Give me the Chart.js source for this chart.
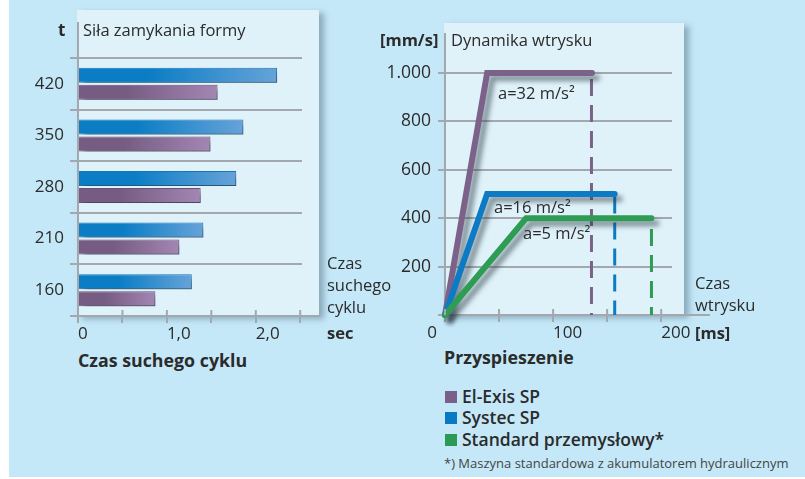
<!DOCTYPE html>
<html>
<head>
<meta charset="utf-8">
<script src="https://cdn.jsdelivr.net/npm/chart.js@4.4.0/dist/chart.umd.min.js"></script>
<style>
    body { margin: 0; width: 805px; height: 479px; background: #fff; position: relative; overflow: hidden; }
    .bg { position: absolute; left: 9px; top: 0; width: 796px; height: 477px; background: #c5e8f8; }
    .panel { position: absolute; background: #dff2fa; box-shadow: 5px 3px 6px rgba(80, 110, 130, 0.5); }
    canvas { position: absolute; top: 0; }
    .lbl { position: absolute; font-family: 'Open Sans', sans-serif; color: #2b2b2b; font-size: 16.5px; line-height: 20px; white-space: nowrap; }
    .b { font-weight: 700; }
    .big { font-size: 17.8px; }
    .leg { font-weight: 600; font-size: 17.5px; }
    .sq { position: absolute; width: 12px; height: 12px; }
</style>
</head>
<body>
<div class="bg"></div>
<div class="panel" style="left:77px; top:10px; width:242px; height:306px;"></div>
<div class="panel" style="left:444px; top:23px; width:240px; height:292px;"></div>

<canvas id="cycleChart" width="345" height="345" style="left:0"></canvas>
<canvas id="injectChart" width="330" height="345" style="left:380px"></canvas>

<!-- left chart texts -->
<div class="lbl b" style="left:58px; top:20px; font-size:17px;">t</div>
<div class="lbl" style="left:83px; top:20px;">Siła zamykania formy</div>
<div class="lbl" style="left:327px; top:253px;">Czas</div>
<div class="lbl" style="left:327px; top:275px;">suchego</div>
<div class="lbl" style="left:327px; top:297px;">cyklu</div>
<div class="lbl b" style="left:327px; top:323px;">sec</div>
<div class="lbl b big" style="left:78px; top:350px;">Czas suchego cyklu</div>

<!-- right chart texts -->
<div class="lbl b" style="left:380px; top:30px;">[mm/s]</div>
<div class="lbl" style="left:451px; top:30px;">Dynamika wtrysku</div>
<div class="lbl" style="left:498px; top:83px;">a=32 m/s²</div>
<div class="lbl" style="left:494px; top:197px;">a=16 m/s²</div>
<div class="lbl" style="left:523px; top:223px;">a=5 m/s²</div>
<div class="lbl" style="left:695px; top:273px;">Czas</div>
<div class="lbl" style="left:695px; top:295px;">wtrysku</div>
<div class="lbl b" style="left:695px; top:323px;">[ms]</div>
<div class="lbl b big" style="left:444px; top:347px;">Przyspieszenie</div>

<!-- legend -->
<div class="sq" style="left:445px; top:391px; background:#7a6088;"></div>
<div class="lbl leg" style="left:462px; top:386px;">El-Exis SP</div>
<div class="sq" style="left:445px; top:412px; background:#0a79c4;"></div>
<div class="lbl leg" style="left:462px; top:407px;">Systec SP</div>
<div class="sq" style="left:445px; top:434px; background:#2a9a55;"></div>
<div class="lbl leg" style="left:462px; top:429px;">Standard przemysłowy*</div>
<div class="lbl" style="left:444px; top:453px; font-size:13px; color:#444;">*) Maszyna standardowa z akumulatorem hydraulicznym</div>

<script>
// --- Data: clamping force vs dry cycle time ---
const clampForces = ['420', '350', '280', '210', '160'];
const systecCycle = [2.24, 1.86, 1.78, 1.41, 1.28];
const elexisCycle = [1.57, 1.49, 1.38, 1.14, 0.87];
const cycleTicks = [0, 0.5, 1.0, 1.5, 2.0, 2.5];

// --- Data: injection speed profiles (time in ms, speed in mm/s) ---
const elexisTimes = [0, 39, 136];
const elexisSpeeds = [0, 1000, 1000];
const systecTimes = [0, 39, 157];
const systecSpeeds = [0, 500, 500];
const standardTimes = [0, 75, 191];
const standardSpeeds = [0, 400, 400];
const injectEndTimes = [135.5, 157, 191];
const injectEndTops = [975, 490, 355];
const speedTicks = [0, 200, 400, 600, 800, 1000];
const timeTicks = [0, 50, 100, 150, 200];

const GRID = '#a2a8ad';
const TEXT = '#2b2b2b';
const PURPLE = '#7c6289';
const BLUE = '#0d7bc3';
const GREEN = '#2e9c52';

Chart.defaults.font.family = 'Open Sans';
Chart.defaults.color = TEXT;

const toPoints = (xs, ys) => xs.map((x, i) => ({ x: x, y: ys[i] }));

// shadows under bars / thick lines
const shadowPlugin = {
    id: 'shadow',
    beforeDatasetDraw(chart, args) {
        if (chart.data.datasets[args.index].noShadow) return;
        const ctx = chart.ctx;
        ctx.save();
        ctx.shadowColor = 'rgba(45, 60, 70, 0.55)';
        ctx.shadowBlur = 5;
        ctx.shadowOffsetX = 5;
        ctx.shadowOffsetY = 5;
    },
    afterDatasetDraw(chart, args) {
        if (chart.data.datasets[args.index].noShadow) return;
        chart.ctx.restore();
    }
};

// axis lines that run past the plot area, inner tick marks, lone "0"
const axisExtendPlugin = {
    id: 'axisExtend',
    afterDraw(chart, args, opts) {
        const { ctx, chartArea } = chart;
        ctx.save();
        ctx.strokeStyle = GRID;
        ctx.lineWidth = 2;
        ctx.beginPath();
        ctx.moveTo(chartArea.left, chartArea.top);
        ctx.lineTo(chartArea.left, opts.top);
        ctx.moveTo(chartArea.right, chartArea.bottom);
        ctx.lineTo(opts.right, chartArea.bottom);
        chart.scales.x.ticks.forEach(t => {
            const px = chart.scales.x.getPixelForValue(t.value);
            ctx.moveTo(px, chartArea.bottom - 6);
            ctx.lineTo(px, chartArea.bottom);
        });
        ctx.stroke();
        if (opts.zeroLabel) {
            ctx.fillStyle = TEXT;
            ctx.font = '17px "Open Sans"';
            ctx.textAlign = 'right';
            ctx.textBaseline = 'middle';
            ctx.fillText('0', chartArea.left - 8, 333);
        }
        ctx.restore();
    }
};

function barGradient(from, to) {
    return (c) => {
        const chart = c.chart;
        const area = chart.chartArea;
        if (!area || c.raw === undefined) return from;
        const end = chart.scales.x.getPixelForValue(c.raw);
        const g = chart.ctx.createLinearGradient(area.left, 0, end, 0);
        g.addColorStop(0, from);
        g.addColorStop(0.35, from);
        g.addColorStop(1, to);
        return g;
    };
}

function loadCycleChart() {
    const ctx = document.getElementById('cycleChart').getContext('2d');
    new Chart(ctx, {
        type: 'bar',
        data: {
            labels: clampForces,
            datasets: [
                {
                    label: 'Systec SP',
                    data: systecCycle,
                    backgroundColor: barGradient('#0a7dc5', '#66a3d8'),
                    borderColor: '#1a74ba',
                    borderWidth: 1,
                    categoryPercentage: 0.66,
                    barPercentage: 0.88
                },
                {
                    label: 'El-Exis SP',
                    data: elexisCycle,
                    backgroundColor: barGradient('#765c82', '#a486b3'),
                    borderColor: '#6a5278',
                    borderWidth: 1,
                    categoryPercentage: 0.66,
                    barPercentage: 0.88
                }
            ]
        },
        options: {
            indexAxis: 'y',
            responsive: false,
            animation: false,
            layout: { padding: { top: 58, right: 43, left: 0, bottom: 0 } },
            scales: {
                x: {
                    type: 'linear',
                    min: 0,
                    max: 2.52,
                    afterBuildTicks: (s) => { s.ticks = cycleTicks.map(v => ({ value: v })); },
                    afterFit: (s) => { s.height = 29; },
                    ticks: {
                        align: 'start',
                        padding: 1,
                        font: { size: 17 },
                        color: TEXT,
                        callback: (v) => (v === 0 ? '0' : (v % 1 === 0 ? v.toFixed(1).replace('.', ',') : ''))
                    },
                    grid: { drawOnChartArea: false, color: GRID, lineWidth: 2, tickLength: 7 },
                    border: { color: GRID, width: 2 }
                },
                y: {
                    afterFit: (s) => { s.width = 78; },
                    ticks: { font: { size: 17 }, color: TEXT, padding: 6 },
                    grid: { color: GRID, lineWidth: 2, tickLength: 8, offset: true },
                    border: { color: GRID, width: 2 }
                }
            },
            plugins: {
                legend: { display: false },
                tooltip: { enabled: false },
                axisExtend: { top: 22, right: 320 }
            }
        },
        plugins: [shadowPlugin, axisExtendPlugin]
    });
}

function loadInjectChart() {
    const ctx = document.getElementById('injectChart').getContext('2d');
    const lineSet = (label, xs, ys, color) => ({
        label: label,
        data: toPoints(xs, ys),
        borderColor: color,
        borderWidth: 6,
        pointRadius: 0,
        borderJoinStyle: 'miter',
        borderCapStyle: 'round',
        clip: false
    });
    const dashSet = (i, color) => ({
        data: [{ x: injectEndTimes[i], y: injectEndTops[i] }, { x: injectEndTimes[i], y: 0 }],
        borderColor: color,
        borderWidth: 3,
        borderDash: [17, 9],
        pointRadius: 0,
        noShadow: true,
        clip: false
    });
    new Chart(ctx, {
        type: 'line',
        data: {
            datasets: [
                lineSet('Standard przemysłowy*', standardTimes, standardSpeeds, GREEN),
                lineSet('Systec SP', systecTimes, systecSpeeds, BLUE),
                lineSet('El-Exis SP', elexisTimes, elexisSpeeds, PURPLE),
                dashSet(0, PURPLE),
                dashSet(1, BLUE),
                dashSet(2, GREEN)
            ]
        },
        options: {
            responsive: false,
            animation: false,
            layout: { padding: { top: 73, right: 38, left: 0, bottom: 0 } },
            scales: {
                x: {
                    type: 'linear',
                    min: 0,
                    max: 210,
                    afterBuildTicks: (s) => { s.ticks = timeTicks.map(v => ({ value: v })); },
                    afterFit: (s) => { s.height = 30; },
                    ticks: {
                        align: 'start',
                        padding: 1,
                        font: { size: 17 },
                        color: TEXT,
                        callback: (v) => (v > 0 && v % 100 === 0 ? String(v) : '')
                    },
                    grid: { drawOnChartArea: false, color: GRID, lineWidth: 2, tickLength: 7 },
                    border: { color: GRID, width: 2 }
                },
                y: {
                    type: 'linear',
                    min: 0,
                    max: 1000,
                    afterBuildTicks: (s) => { s.ticks = speedTicks.map(v => ({ value: v })); },
                    afterFit: (s) => { s.width = 65; },
                    ticks: {
                        font: { size: 17.5 },
                        color: TEXT,
                        padding: 7,
                        callback: (v) => (v === 0 ? '' : String(v).replace(/\B(?=(\d{3})+(?!\d))/g, '.'))
                    },
                    grid: { color: GRID, lineWidth: 2, tickLength: 7 },
                    border: { color: GRID, width: 2 }
                }
            },
            plugins: {
                legend: { display: false },
                tooltip: { enabled: false },
                axisExtend: { top: 33, right: 690, zeroLabel: true }
            }
        },
        plugins: [shadowPlugin, axisExtendPlugin]
    });
}

loadCycleChart();
loadInjectChart();
</script>
</body>
</html>
